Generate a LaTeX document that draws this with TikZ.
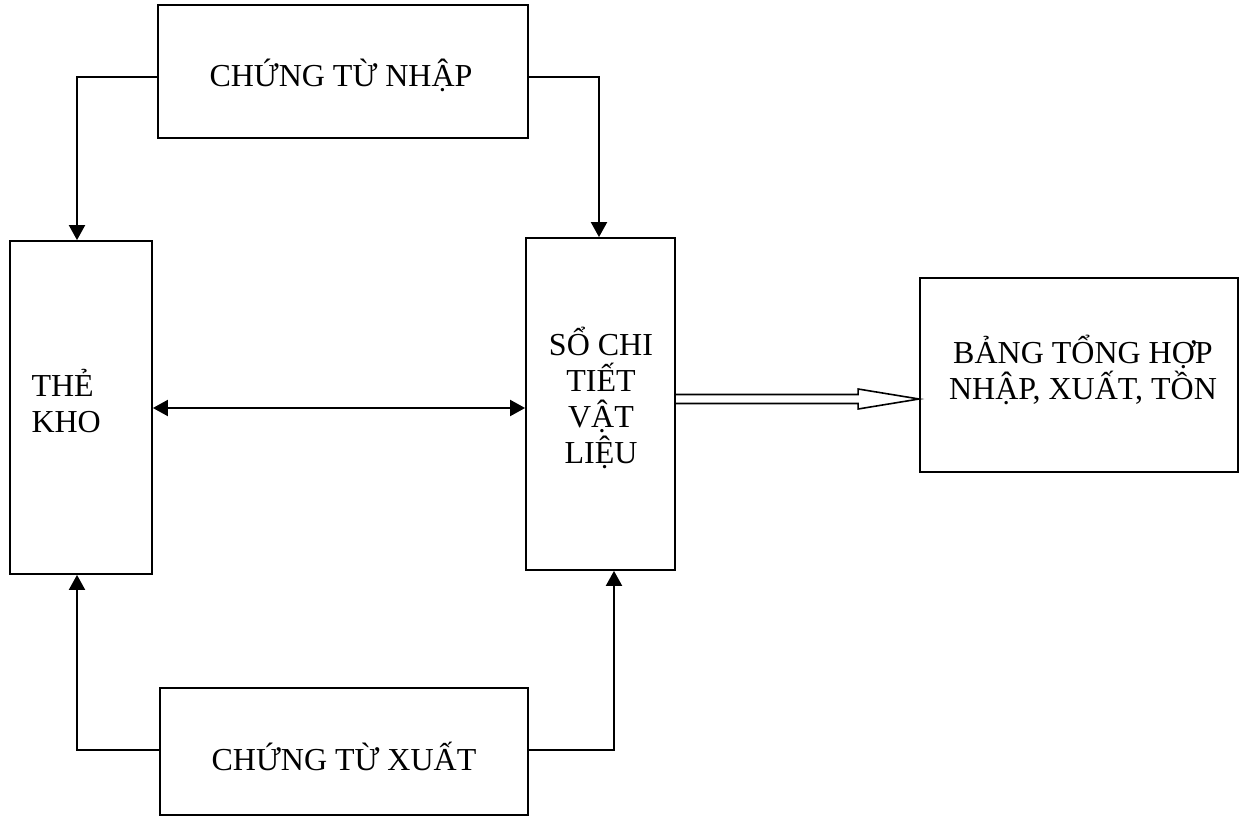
\documentclass[tikz,border=0pt]{standalone}
\usepackage{fontspec}
\setmainfont{Liberation Serif}
\usetikzlibrary{arrows.meta,calc,positioning}
\begin{document}
\begin{tikzpicture}[x=1pt,y=-1pt,
  box/.style={draw,line width=1.8pt,rectangle,inner sep=0pt},
  lbl/.style={font=\fontsize{32}{36}\selectfont},
  conn/.style={line width=2pt,-{Triangle[length=15pt,width=16pt]}},
  dconn/.style={line width=2pt,{Triangle[length=15pt,width=16pt]}-{Triangle[length=15pt,width=16pt]}}]
\useasboundingbox (0,0) rectangle (1254,816);
% boxes
\node[box,minimum width=370pt,minimum height=133pt] (nhap) at (343,71.5) {};
\node[lbl] at (341,75) {CHỨNG TỪ NHẬP};
\node[box,minimum width=368pt,minimum height=127pt] (xuat) at (344,751.5) {};
\node[lbl] at (344,756) {CHỨNG TỪ XUẤT};
\node[box,minimum width=142pt,minimum height=333pt] (the) at (81,407.5) {};
\node[lbl,align=left,anchor=west] at (28,401) {THẺ\\KHO};
\node[box,minimum width=149pt,minimum height=332pt] (so) at (600.5,404) {};
\node[lbl,align=center] at (601,398) {SỔ CHI\\TIẾT\\VẬT\\LIỆU};
\node[box,minimum width=318pt,minimum height=194pt] (bang) at (1079,375) {};
\node[lbl,align=center] at (1083,370) {BẢNG TỔNG HỢP\\NHẬP, XUẤT, TỒN};
% connectors
\draw[conn] (nhap.west |- 0,77) -| (the.north -| 77,0);
\draw[conn] (nhap.east |- 0,77) -| (so.north -| 599,0);
\draw[conn] (xuat.west |- 0,750) -| (the.south -| 77,0);
\draw[conn] (xuat.east |- 0,750) -| (so.south -| 614,0);
\draw[dconn] (the.east |- 0,408) -- (so.west |- 0,408);
% hollow arrow
\coordinate (a0) at (so.east |- 0,399);
\coordinate (a1) at (bang.west |- 0,399);
\draw[line width=1.6pt,line join=miter]
  ($(a0)+(0,-4.5)$) -- ($(a1)+(-61,-4.5)$) -- ($(a1)+(-61,-10)$) -- (a1)
  -- ($(a1)+(-61,10)$) -- ($(a1)+(-61,4.5)$) -- ($(a0)+(0,4.5)$);
\end{tikzpicture}
\end{document}
